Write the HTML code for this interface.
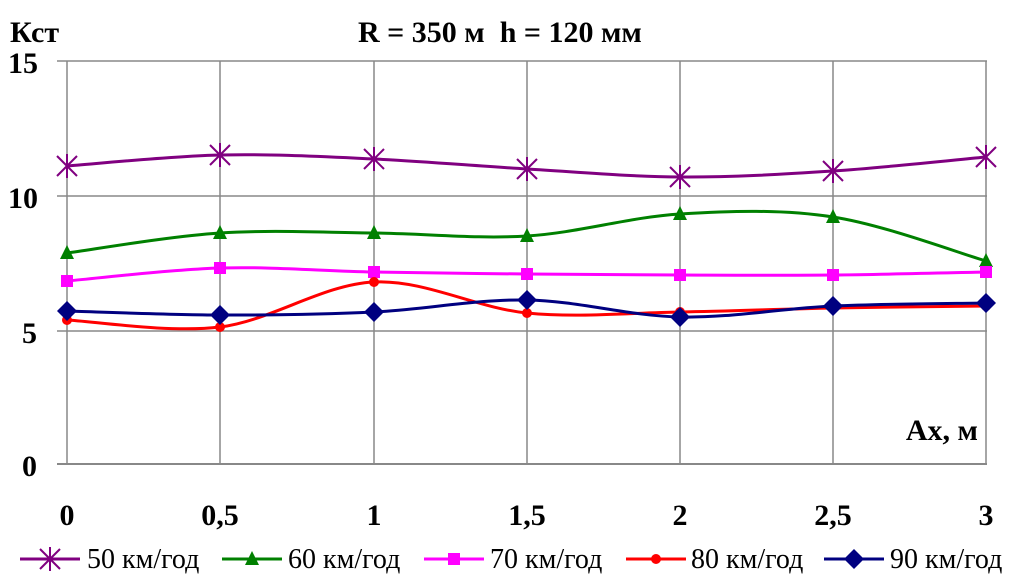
<!DOCTYPE html>
<html><head><meta charset="utf-8"><style>
html,body{margin:0;padding:0;background:#fff;}
svg{display:block;}
text{font-family:"Liberation Serif",serif;}
</style></head><body>
<svg id="s" width="1012" height="581" viewBox="0 0 1012 581" xmlns="http://www.w3.org/2000/svg">
<g stroke="#888" stroke-width="1.5" fill="none">
<line x1="57" y1="61" x2="987" y2="61"/>
<line x1="57" y1="196" x2="987" y2="196"/>
<line x1="57" y1="331" x2="987" y2="331"/>
<line x1="57" y1="464" x2="987" y2="464" stroke-width="2"/>
<line x1="67" y1="61" x2="67" y2="464"/>
<line x1="220" y1="61" x2="220" y2="464"/>
<line x1="374" y1="61" x2="374" y2="464"/>
<line x1="527" y1="61" x2="527" y2="464"/>
<line x1="680" y1="61" x2="680" y2="464"/>
<line x1="833" y1="61" x2="833" y2="464"/>
<line x1="986" y1="61" x2="986" y2="464"/>
</g>
<g font-weight="bold" font-size="30" fill="#000">
<text x="10" y="42">Кст</text>
<text x="358" y="42">R = 350 м&#160; h = 120 мм</text>
<text x="8" y="73">15</text>
<text x="8" y="208">10</text>
<text x="22" y="343">5</text>
<text x="22" y="476">0</text>
<text x="978" y="440" text-anchor="end">Ах, м</text>
<g text-anchor="middle">
<text x="67" y="525">0</text><text x="220" y="525">0,5</text><text x="374" y="525">1</text>
<text x="527" y="525">1,5</text><text x="680" y="525">2</text><text x="833" y="525">2,5</text><text x="986" y="525">3</text>
</g>
</g>
<g font-size="28" fill="#000">
<text x="87" y="568">50 км/год</text>
<text x="288" y="568">60 км/год</text>
<text x="490" y="568">70 км/год</text>
<text x="691" y="568">80 км/год</text>
<text x="890" y="568">90 км/год</text>
</g>
<g id="g"></g>
</svg>
<script>
var xs=[67,220,374,527,680,833,986];
var S=[
 {c:"#800080",m:"x",y:[166,155,159,169,177,171,157],lx:20},
 {c:"#008000",m:"t",y:[253,233,233,236,214,217,261],lx:222},
 {c:"#ff00ff",m:"s",y:[281,268,272,274,275,275,272],lx:424},
 {c:"#ff0000",m:"c",y:[320,327,282,313,312,308,306],lx:626},
 {c:"#000080",m:"d",y:[311,315,312,300,317,306,303],lx:824}
];
var g=document.getElementById('g'),h='';
function mk(m,x,y,c){
 if(m=='x')return '<g stroke="'+c+'" stroke-width="2"><line x1="'+(x-10)+'" y1="'+(y-10)+'" x2="'+(x+10)+'" y2="'+(y+10)+'"/><line x1="'+(x-10)+'" y1="'+(y+10)+'" x2="'+(x+10)+'" y2="'+(y-10)+'"/><line x1="'+x+'" y1="'+(y-12)+'" x2="'+x+'" y2="'+(y+12)+'"/></g>';
 if(m=='t')return '<polygon fill="'+c+'" points="'+x+','+(y-8)+' '+(x-7)+','+(y+6)+' '+(x+7)+','+(y+6)+'"/>';
 if(m=='s')return '<rect fill="'+c+'" x="'+(x-6)+'" y="'+(y-6)+'" width="12" height="12"/>';
 if(m=='c')return '<circle fill="'+c+'" cx="'+x+'" cy="'+y+'" r="5"/>';
 return '<polygon fill="'+c+'" points="'+x+','+(y-10)+' '+(x+10)+','+y+' '+x+','+(y+10)+' '+(x-10)+','+y+'"/>';
}
S.forEach(function(s){
 var p=xs.map(function(x,i){return [x,s.y[i]];});
 var d='M'+p[0][0]+','+p[0][1];
 for(var i=0;i<p.length-1;i++){
  var p0=p[i-1]||p[i],p1=p[i],p2=p[i+1],p3=p[i+2]||p[i+1],t=6;
  d+=' C'+(p1[0]+(p2[0]-p0[0])/t)+','+(p1[1]+(p2[1]-p0[1])/t)+' '+(p2[0]-(p3[0]-p1[0])/t)+','+(p2[1]-(p3[1]-p1[1])/t)+' '+p2[0]+','+p2[1];
 }
 h+='<path d="'+d+'" fill="none" stroke="'+s.c+'" stroke-width="3"/>';
 p.forEach(function(q){h+=mk(s.m,q[0],q[1],s.c);});
 h+='<line x1="'+s.lx+'" y1="559" x2="'+(s.lx+60)+'" y2="559" stroke="'+s.c+'" stroke-width="3"/>'+mk(s.m,s.lx+30,559,s.c);
});
g.innerHTML=h;
</script>
</body></html>
